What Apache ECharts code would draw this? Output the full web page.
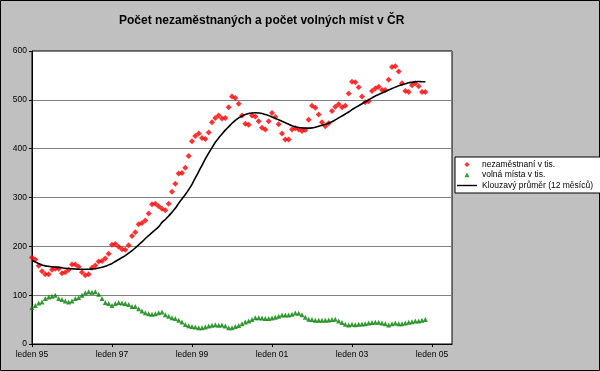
<!DOCTYPE html>
<html><head><meta charset="utf-8">
<script src="https://cdn.jsdelivr.net/npm/echarts@6/dist/echarts.min.js"></script>
<style>html,body{margin:0;padding:0;background:#c0c0c0}#c{width:600px;height:371px}</style>
</head><body><div id="c"></div>
<script>
// Monthly data, index 0 = leden (January) 1995
const xTickLabels = ['leden 95','leden 97','leden 99','leden 01','leden 03','leden 05'];
const unemployed = [177,173,160,149,143,143,152,154,154,145,147,152,163,163,158,147,141,143,156,161,
  169,170,175,185,203,205,199,194,193,202,221,229,245,248,253,267,286,287,282,277,
  274,287,312,328,349,350,361,385,415,426,431,422,420,433,454,463,468,462,463,485,
  507,504,492,468,451,449,468,466,456,443,439,456,473,465,450,431,419,419,439,442,
  439,436,438,459,488,484,470,454,446,452,477,486,491,485,488,513,537,536,526,507,
  495,497,518,523,527,520,520,541,567,569,558,534,518,516,530,534,528,516,516];
const vacancies = [74.5,79,84,86,93,96,98,99.6,93,91,88,86,88,93,95,100,105,107,106,107,
  102,93,85,83,79,83,85,84,83,81,77,77,72,67.5,64,62,61,62,64,65.5,
  60,57,54,52,48.5,45,40,37.6,36,35,33.5,33.5,35,37,38.3,39.6,38.3,39,37,33.5,
  33.5,36,38,41.7,45,47,50,54,54,53,52,52,53,55,56.7,59.4,59.4,59.4,60.8,63.5,
  62.8,60,55,50.5,50,48.5,48.5,48.5,48.5,49,50,50.5,47,43.8,40.3,39,40.3,39.6,40.3,41,
  41.7,43,43.8,44.4,44.4,43,41.7,39,41.7,43,41.7,41.7,43,44.4,45.8,47,47,48.5,50];
const movingAvg = [171,168,165,162,160,159,158,157.5,157,156,155,154.5,154,153.5,153,153,153,153,153.5,154,
  155.5,157,159,162,165,169,173,177,181,186,191,197,203,209,216,222,228,234,240,249,
  255,262,270,278,288,297,306,316,327,340,353,366,379,391,402,413,422,430,438,445,
  452,458,463,467,470,472,473,473.5,473,472,470,468,465,462,459,456,453,450,447,445,
  443.5,442.5,442,442,442.5,444,446,448,450,452,455,459,463,467,471,475,480,484,488,492,
  496,500,504,508,511,514,517,520,523,526,529,531,533,535,536,537,537.5,537,537];
const seriesNames = ['nezaměstnaní v tis.','volná místa v tis.','Klouzavý průměr (12 měsíců)'];

const toPairs = arr => arr.map((v,i)=>[i,v]);
const font = 'Liberation Sans, Arial, sans-serif';
// legend icons: invisible corner moves fix the icon box at 20x8
const iconDiamond = 'path://M0,0M20,8M10,1.4L12.6,4L10,6.6L7.4,4Z';
const iconTriangle = 'path://M0,0M20,8M10,1.6L12.5,6.2L7.5,6.2Z';
const iconLine = 'path://M0,0M20,8M0,3.3L20,3.3L20,4.7L0,4.7Z';
const chart = echarts.init(document.getElementById('c'));
chart.setOption({
  backgroundColor:'#c0c0c0',
  animation:false,
  title:{text:'Počet nezaměstnaných a počet volných míst v ČR',left:119,top:15,padding:0,
    textStyle:{fontFamily:font,fontSize:12,fontWeight:'bold',color:'#000'}},
  graphic:[{type:'rect',shape:{x:0.5,y:0.5,width:599,height:370},style:{fill:null,stroke:'#000',lineWidth:1},silent:true}],
  grid:{left:32,right:148,top:51,bottom:27,show:true,backgroundColor:'#fff',borderColor:'#000',borderWidth:1},
  legend:{orient:'vertical',left:455,top:157,backgroundColor:'#fff',borderColor:'#000',borderWidth:1,
    padding:[3,14,3,2],itemWidth:20,itemHeight:8,itemGap:1.5,symbolKeepAspect:true,
    textStyle:{fontFamily:font,fontSize:8.5,color:'#000'},
    data:[{name:seriesNames[0],icon:iconDiamond},{name:seriesNames[1],icon:iconTriangle},{name:seriesNames[2],icon:iconLine}]},
  xAxis:{type:'value',min:0,max:126,interval:24,
    axisLine:{lineStyle:{color:'#000'}},
    axisTick:{length:3,lineStyle:{color:'#000'}},
    splitLine:{show:false},
    axisLabel:{showMaxLabel:false,margin:6,fontFamily:font,fontSize:8.5,color:'#000',
      formatter:v=>xTickLabels[v/24]||''}},
  yAxis:{type:'value',min:0,max:600,interval:100,
    axisLine:{show:true,lineStyle:{color:'#000'}},
    axisTick:{show:true,length:3,lineStyle:{color:'#000'}},
    splitLine:{lineStyle:{color:'#808080',width:1}},
    axisLabel:{margin:5,fontFamily:font,fontSize:8.5,color:'#000'}},
  series:[
    {name:seriesNames[0],type:'scatter',data:toPairs(unemployed),symbol:'diamond',symbolSize:6,
      itemStyle:{color:'#ff0000'},z:3},
    {name:seriesNames[1],type:'scatter',data:toPairs(vacancies),symbol:'triangle',symbolSize:5,
      itemStyle:{color:'#008000'},z:3},
    {name:seriesNames[2],type:'line',data:toPairs(movingAvg),showSymbol:false,symbol:'none',smooth:0.3,
      lineStyle:{color:'#000',width:1.6},itemStyle:{color:'#000'},z:4}
  ]
});
</script></body></html>
